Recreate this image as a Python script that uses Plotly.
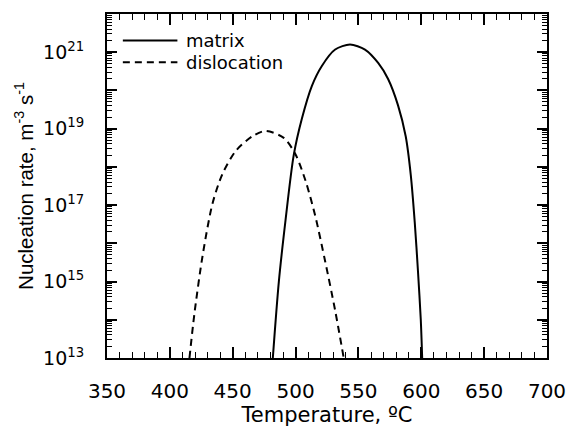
import plotly.graph_objects as go

# Matrix nucleation (temperature in degC, log10 of rate in m^-3 s^-1)
matrix_T = [481.9, 486.7, 492.0, 498.5, 505.1, 513.0, 520.9, 531.5, 543.3, 555.2,
            565.7, 573.6, 581.5, 587.6, 591.6, 594.8, 597.4, 599.6, 600.7]
matrix_log = [13.0, 15.0, 16.6, 18.3, 19.27, 20.12, 20.64, 21.07, 21.2, 21.07,
              20.72, 20.30, 19.61, 18.80, 17.80, 16.55, 15.25, 14.0, 13.0]

# Dislocation nucleation
disl_T = [415.6, 419.5, 426.1, 434.0, 441.9, 452.5, 465.6, 476.0, 490.6, 499.9,
          507.8, 515.7, 523.6, 531.5, 538.3]
disl_log = [13.0, 14.15, 15.69, 17.05, 17.82, 18.42, 18.80, 18.94, 18.76, 18.33,
            17.65, 16.71, 15.52, 14.24, 13.0]

series_names = ["matrix", "dislocation"]
x_ticks = [350, 400, 450, 500, 550, 600, 650, 700]
x_minor = [v for v in range(350, 701, 10) if v % 50 != 0]
y_decades = list(range(13, 23))
y_labeled = [13, 15, 17, 19, 21]

WIDE = "DejaVu Sans, Verdana, sans-serif"
NARROW = "Liberation Sans, Arial, Helvetica, sans-serif"
DASH = "7px,5px"

fig = go.Figure()
fig.add_trace(go.Scatter(x=matrix_T, y=[10 ** v for v in matrix_log], mode="lines",
                         name=series_names[0], showlegend=False,
                         line=dict(color="black", width=2, shape="spline", smoothing=0.8)))
fig.add_trace(go.Scatter(x=disl_T, y=[10 ** v for v in disl_log], mode="lines",
                         name=series_names[1], showlegend=False,
                         line=dict(color="black", width=2, dash=DASH, shape="spline",
                                   smoothing=0.8)))
# empty trace so the overlaid minor-tick axes are drawn
fig.add_trace(go.Scatter(x=[None], y=[None], xaxis="x2", yaxis="y2", mode="lines",
                         showlegend=False, hoverinfo="skip"))

# legend drawn inside the plot (sample line + label)
leg_rows = [0.923, 0.860]
leg_dash = ["solid", DASH]
for name, yy, dsh in zip(series_names, leg_rows, leg_dash):
    fig.add_shape(type="line", xref="paper", yref="paper", x0=0.036, x1=0.160,
                  y0=yy, y1=yy, line=dict(color="black", width=2, dash=dsh))
    fig.add_annotation(xref="paper", yref="paper", x=0.175, y=yy, text=name,
                       showarrow=False, xanchor="left", yanchor="middle",
                       font=dict(family=WIDE, size=18, color="black"))

yvals = [10.0 ** d for d in y_decades]
ytext = [f"10<sup>{d}</sup>" if d in y_labeled else "" for d in y_decades]
yminor = [k * 10.0 ** d for d in range(13, 22) for k in range(2, 10)]

common = dict(showgrid=False, zeroline=False, ticks="inside", tickcolor="black",
              mirror="allticks", layer="above traces")

fig.update_layout(
    width=578, height=431,
    margin=dict(l=107, r=28, t=14, b=66),
    paper_bgcolor="white", plot_bgcolor="white",
    font=dict(family=WIDE, size=19, color="black"),
    showlegend=False,
    xaxis=dict(range=[350, 700], tickmode="array", tickvals=x_ticks,
               ticklen=11, tickwidth=1.6, showline=True, linecolor="black",
               linewidth=2, tickfont=dict(family=WIDE, size=20), ticklabelstandoff=14,
               title=dict(text="Temperature, ºC", font=dict(family=WIDE, size=21),
                          standoff=1), **common),
    xaxis2=dict(range=[350, 700], overlaying="x", anchor="y2", tickmode="array",
                tickvals=x_minor, ticklen=6, tickwidth=1.3, showticklabels=False,
                showline=False, **common),
    yaxis=dict(type="log", range=[13, 22], tickmode="array", tickvals=yvals,
               ticktext=ytext, ticklen=10, tickwidth=1.8, showline=True,
               linecolor="black", linewidth=2,
               tickfont=dict(family=WIDE, size=19), ticklabelstandoff=17,
               title=dict(text="Nucleation rate, m<sup>-3</sup> s<sup>-1</sup>",
                          font=dict(family=NARROW, size=20.5), standoff=4), **common),
    yaxis2=dict(type="log", range=[13, 22], overlaying="y", anchor="x2",
                tickmode="array", tickvals=yminor, ticklen=5, tickwidth=1.2,
                showticklabels=False, showline=False, **common),
)

fig.write_html("out.html")
